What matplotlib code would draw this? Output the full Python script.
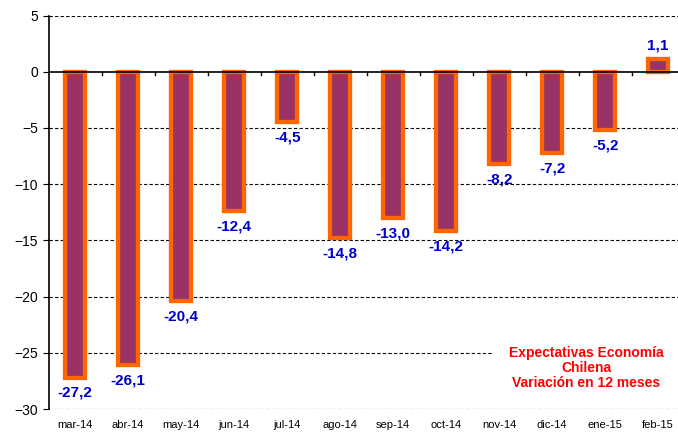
import numpy as np
import matplotlib.pyplot as plt

plt.rcParams['font.family'] = ['Liberation Sans', 'DejaVu Sans']

meses = ['mar-14', 'abr-14', 'may-14', 'jun-14', 'jul-14', 'ago-14',
         'sep-14', 'oct-14', 'nov-14', 'dic-14', 'ene-15', 'feb-15']
variacion = [-27.2, -26.1, -20.4, -12.4, -4.5, -14.8,
             -13.0, -14.2, -8.2, -7.2, -5.2, 1.1]

fig = plt.figure(figsize=(6.78, 4.32), dpi=100)
# the plot area runs slightly past the right edge, as in the original
ax = fig.add_axes([0.0718, 0.053, 0.938, 0.911])

x = np.arange(len(meses))
ax.bar(x, variacion, width=0.37, color='#993366', edgecolor='#FF6600',
       linewidth=3.1, zorder=3)

for xi, v in zip(x, variacion):
    txt = f'{v:.1f}'.replace('.', ',')
    if v < 0:
        ax.annotate(txt, (xi, v), xytext=(0, -6), textcoords='offset points',
                    ha='center', va='top', color='#0000CC',
                    fontsize=11, fontweight='bold')
    else:
        ax.annotate(txt, (xi, v), xytext=(0, 5), textcoords='offset points',
                    ha='center', va='bottom', color='#0000CC',
                    fontsize=11, fontweight='bold')

ax.set_xlim(-0.5, len(meses) - 0.5)
ax.set_ylim(-30, 5)
ax.set_yticks(range(-30, 6, 5))
ax.set_xticks(x)
ax.set_xticklabels(meses, fontsize=8)
ax.tick_params(axis='y', labelsize=10, direction='out', length=4)
ax.tick_params(axis='x', length=0, pad=8)

for y in range(-30, 6, 5):
    if y != 0:
        ax.axhline(y, color='black', linestyle=(0, (3, 2)), linewidth=0.8, zorder=1)
ax.axhline(0, color='black', linewidth=1.2, zorder=4)
for b in np.arange(0.5, len(meses) - 0.5, 1):
    ax.plot([b, b], [0, -0.3], color='black', linewidth=1, zorder=4)

for s in ['top', 'right', 'bottom']:
    ax.spines[s].set_visible(False)
ax.spines['left'].set_linewidth(1.2)

ax.text(9.64, -26.35, 'Expectativas Economía\nChilena\nVariación en 12 meses',
        ha='center', va='center', color='red', fontsize=10,
        fontweight='bold', linespacing=1.1, zorder=5,
        bbox=dict(facecolor='white', edgecolor='none', pad=12))

fig.savefig('out.png', dpi=100)
